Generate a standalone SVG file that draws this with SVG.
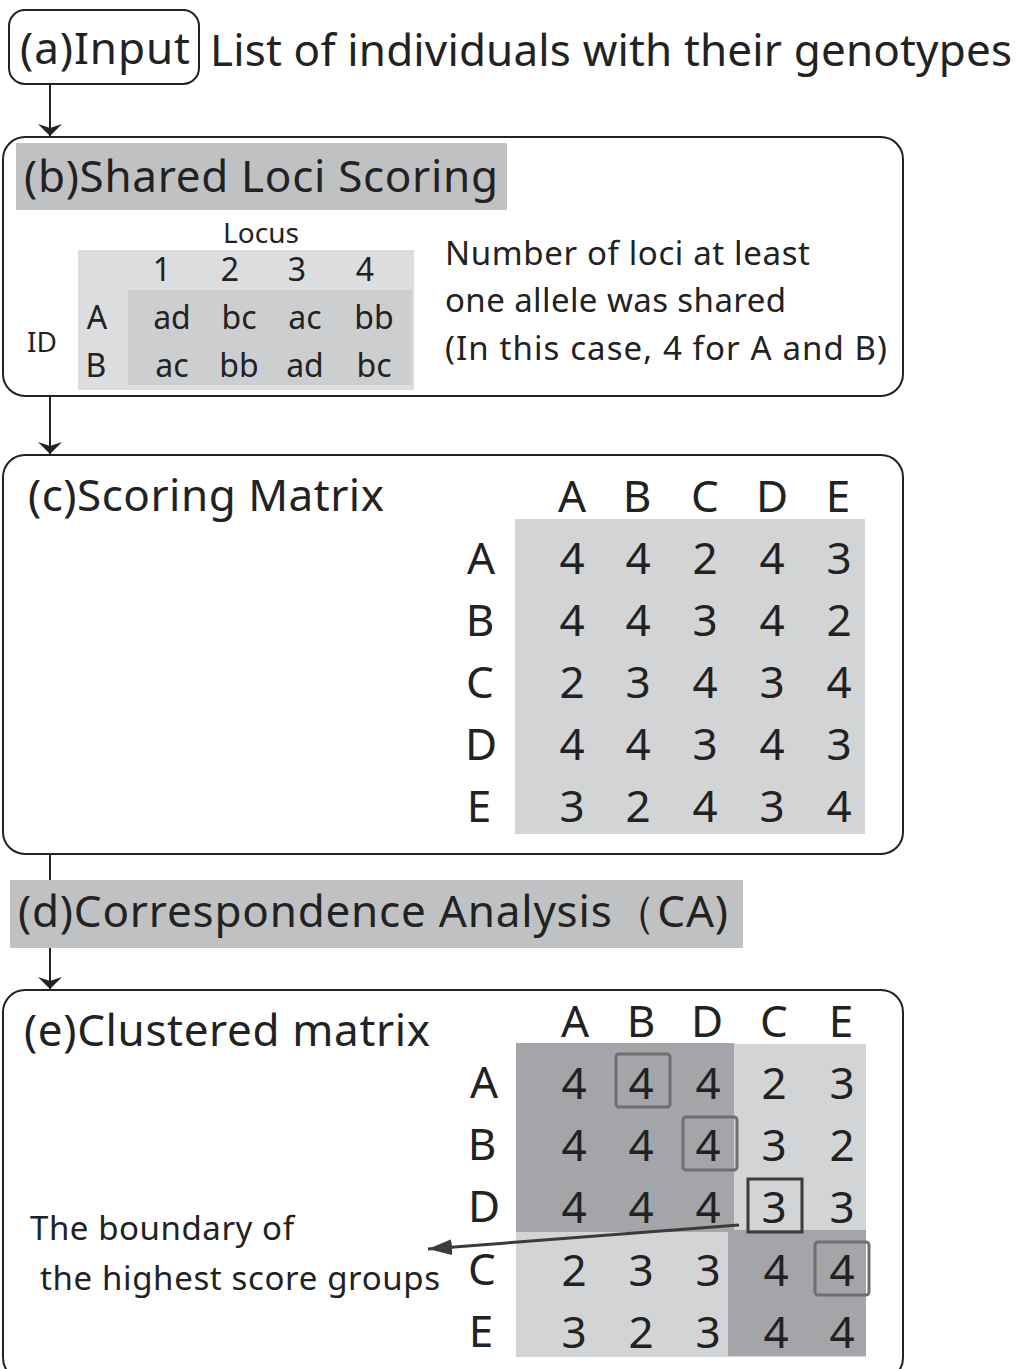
<svg xmlns="http://www.w3.org/2000/svg" width="1019" height="1369" viewBox="0 0 1019 1369">
<defs>
<marker id="ah" viewBox="0 0 12 24" refX="12" refY="12" markerWidth="12" markerHeight="24" markerUnits="userSpaceOnUse" orient="auto">
<path d="M0,0 L12,12 L0,24 L4,12 Z" fill="#222"/>
</marker>
<marker id="ah2" viewBox="0 0 24 16" refX="24" refY="8" markerWidth="24" markerHeight="16" markerUnits="userSpaceOnUse" orient="auto">
<path d="M0,0 L24,8 L0,16 Z" fill="#3a3d36"/>
</marker>
<style>
text{font-family:"Noto Sans","Open Sans",sans-serif;fill:#222}
.box{fill:#fff;stroke:#222;stroke-width:2}
.t44{font-size:44px}
.t32{font-size:33px}
.t28{font-size:28px}
.m{font-size:44px;text-anchor:middle}
.c32{font-size:32px;text-anchor:middle}
.hl{fill:none;stroke:#6e6f71;stroke-width:3}
.conn{stroke:#222;stroke-width:2;fill:none}
</style>
</defs>
<g id="connectors">
<line class="conn" x1="50" y1="84" x2="50" y2="136" marker-end="url(#ah)"/>
<line class="conn" x1="50" y1="396" x2="50" y2="454" marker-end="url(#ah)"/>
<line class="conn" x1="50" y1="854" x2="50" y2="880"/>
<line class="conn" x1="50" y1="948" x2="50" y2="989" marker-end="url(#ah)"/>
</g>
<g id="a">
<rect class="box" x="9" y="10" width="190" height="74" rx="16"/>
<text class="t44" x="20" y="64" textLength="170">(a)Input</text>
<text class="t44" x="210" y="66" textLength="802">List of individuals with their genotypes</text>
</g>
<g id="b">
<rect class="box" x="3" y="137" width="900" height="259" rx="22"/>
<rect x="16" y="143" width="491" height="67" fill="#c0c1c3"/>
<text class="t44" x="24" y="192" textLength="474">(b)Shared Loci Scoring</text>
<rect x="78" y="250" width="336" height="140" fill="#dcdddf"/>
<rect x="128" y="290" width="284" height="95" fill="#cdced0"/>
<text class="t28" x="261" y="243" text-anchor="middle">Locus</text>
<text class="c32" x="162" y="281">1</text>
<text class="c32" x="230" y="281">2</text>
<text class="c32" x="297" y="281">3</text>
<text class="c32" x="365" y="281">4</text>
<text class="t28" x="27" y="352">ID</text>
<text class="c32" x="97" y="329">A</text>
<text class="c32" x="96" y="377">B</text>
<text class="c32" x="172" y="329">ad</text>
<text class="c32" x="239" y="329">bc</text>
<text class="c32" x="305" y="329">ac</text>
<text class="c32" x="374" y="329">bb</text>
<text class="c32" x="172" y="377">ac</text>
<text class="c32" x="239" y="377">bb</text>
<text class="c32" x="305" y="377">ad</text>
<text class="c32" x="374" y="377">bc</text>
<text class="t32" x="445" y="265" textLength="365">Number of loci at least</text>
<text class="t32" x="445" y="312" textLength="341">one allele was shared</text>
<text class="t32" x="445" y="360" textLength="442">(In this case, 4 for A and B)</text>
</g>
<g id="c">
<rect class="box" x="3" y="455" width="900" height="399" rx="22"/>
<text class="t44" x="28" y="511" textLength="356">(c)Scoring Matrix</text>
<rect x="515" y="519" width="350" height="315" fill="#d3d4d6"/>
<text class="m" x="572" y="512">A</text><text class="m" x="637" y="512">B</text><text class="m" x="705" y="512">C</text><text class="m" x="772" y="512">D</text><text class="m" x="838" y="512">E</text>
<text class="m" x="481" y="574">A</text><text class="m" x="480" y="636">B</text><text class="m" x="480" y="698">C</text><text class="m" x="481" y="760">D</text><text class="m" x="479" y="822">E</text>
<text class="m" x="572" y="574">4</text><text class="m" x="638" y="574">4</text><text class="m" x="705" y="574">2</text><text class="m" x="772" y="574">4</text><text class="m" x="839" y="574">3</text>
<text class="m" x="572" y="636">4</text><text class="m" x="638" y="636">4</text><text class="m" x="705" y="636">3</text><text class="m" x="772" y="636">4</text><text class="m" x="839" y="636">2</text>
<text class="m" x="572" y="698">2</text><text class="m" x="638" y="698">3</text><text class="m" x="705" y="698">4</text><text class="m" x="772" y="698">3</text><text class="m" x="839" y="698">4</text>
<text class="m" x="572" y="760">4</text><text class="m" x="638" y="760">4</text><text class="m" x="705" y="760">3</text><text class="m" x="772" y="760">4</text><text class="m" x="839" y="760">3</text>
<text class="m" x="572" y="822">3</text><text class="m" x="638" y="822">2</text><text class="m" x="705" y="822">4</text><text class="m" x="772" y="822">3</text><text class="m" x="839" y="822">4</text>
</g>
<g id="d">
<rect x="10" y="880" width="733" height="68" fill="#c0c1c3"/>
<text class="t44" x="18" y="927" textLength="710">(d)Correspondence Analysis（CA)</text>
</g>
<g id="e">
<rect class="box" x="3" y="990" width="900" height="390" rx="22"/>
<text class="t44" x="24" y="1046" textLength="406">(e)Clustered matrix</text>
<rect x="516" y="1044" width="350" height="313" fill="#d3d4d6"/>
<rect x="516" y="1043" width="218" height="189" fill="#a4a5a8"/>
<rect x="728" y="1230" width="138" height="126" fill="#a4a5a8"/>
<text class="m" x="575" y="1037">A</text><text class="m" x="641" y="1037">B</text><text class="m" x="707" y="1037">D</text><text class="m" x="774" y="1037">C</text><text class="m" x="841" y="1037">E</text>
<text class="m" x="484" y="1098">A</text><text class="m" x="482" y="1160">B</text><text class="m" x="484" y="1222">D</text><text class="m" x="482" y="1285">C</text><text class="m" x="481" y="1347">E</text>
<text class="m" x="574" y="1099">4</text><text class="m" x="641" y="1099">4</text><text class="m" x="708" y="1099">4</text><text class="m" x="774" y="1099">2</text><text class="m" x="842" y="1099">3</text>
<text class="m" x="574" y="1161">4</text><text class="m" x="641" y="1161">4</text><text class="m" x="708" y="1161">4</text><text class="m" x="774" y="1161">3</text><text class="m" x="842" y="1161">2</text>
<text class="m" x="574" y="1223">4</text><text class="m" x="641" y="1223">4</text><text class="m" x="708" y="1223">4</text><text class="m" x="774" y="1223">3</text><text class="m" x="842" y="1223">3</text>
<text class="m" x="574" y="1286">2</text><text class="m" x="641" y="1286">3</text><text class="m" x="708" y="1286">3</text><text class="m" x="776" y="1286">4</text><text class="m" x="842" y="1286">4</text>
<text class="m" x="574" y="1348">3</text><text class="m" x="641" y="1348">2</text><text class="m" x="708" y="1348">3</text><text class="m" x="776" y="1348">4</text><text class="m" x="842" y="1348">4</text>
<rect class="hl" x="616" y="1054" width="54" height="53" rx="3"/>
<rect class="hl" x="683" y="1117" width="54" height="53" rx="3"/>
<rect x="748" y="1179" width="54" height="53" fill="none" stroke="#3a3d36" stroke-width="3"/>
<rect class="hl" x="815" y="1242" width="54" height="53" rx="3"/>
<text class="t32" x="30" y="1240" textLength="264">The boundary of</text>
<text class="t32" x="40" y="1290" textLength="400">the highest score groups</text>
<line x1="739" y1="1225" x2="428" y2="1249" stroke="#3a3d36" stroke-width="3" marker-end="url(#ah2)"/>
</g>
</svg>
